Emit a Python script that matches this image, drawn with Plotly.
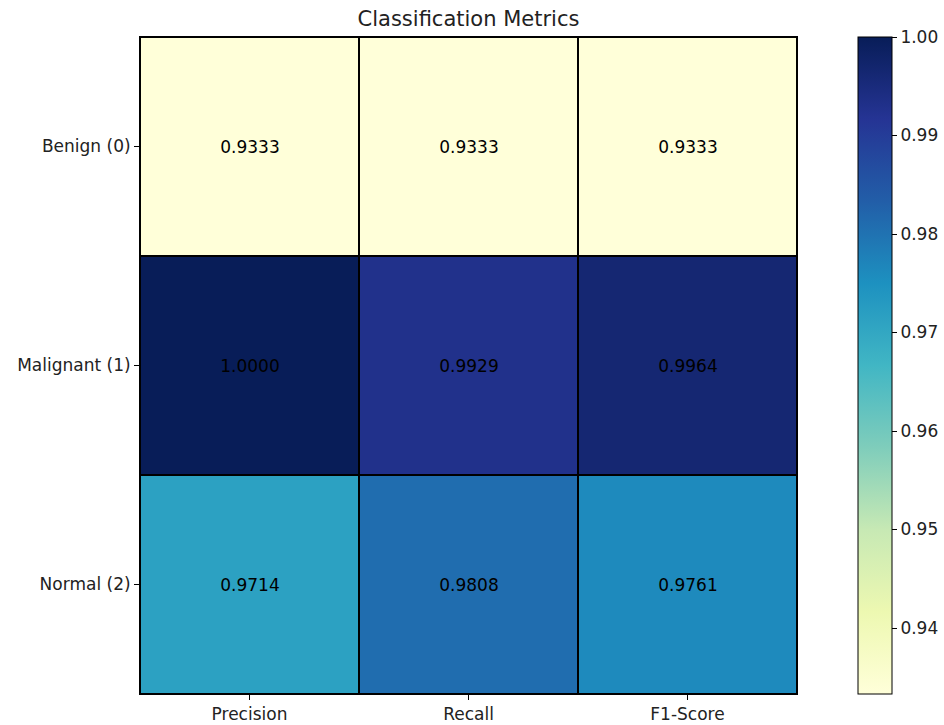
import plotly.graph_objects as go

metrics = ["Precision", "Recall", "F1-Score"]
classes = ["Benign (0)", "Malignant (1)", "Normal (2)"]
precision = [0.9333, 1.0000, 0.9714]
recall = [0.9333, 0.9929, 0.9808]
f1 = [0.9333, 0.9964, 0.9761]
cbar_ticks = [0.94, 0.95, 0.96, 0.97, 0.98, 0.99, 1.00]

z = [[precision[i], recall[i], f1[i]] for i in range(len(classes))]

ylgnbu = ["#ffffd9", "#edf8b1", "#c7e9b4", "#7fcdbb", "#41b6c4",
          "#1d91c0", "#225ea8", "#253494", "#081d58"]
colorscale = [[i / (len(ylgnbu) - 1), c] for i, c in enumerate(ylgnbu)]

font = "DejaVu Sans, sans-serif"
W, H = 944, 725

fig = go.Figure(go.Heatmap(
    z=z, x=metrics, y=classes,
    colorscale=colorscale,
    zmin=min(min(r) for r in z), zmax=max(max(r) for r in z),
    xgap=2, ygap=2,
    texttemplate="%{z:.4f}",
    textfont=dict(family=font, size=17, color="black"),
    hoverinfo="skip",
    colorbar=dict(
        x=1.093, xanchor="left", y=0.5, yanchor="middle",
        len=1.0, lenmode="fraction", thickness=34, xpad=0, ypad=0,
        outlinewidth=1, outlinecolor="black",
        tickvals=cbar_ticks, ticktext=[f"{t:.2f}" for t in cbar_ticks],
        ticks="outside", ticklen=5, tickcolor="black",
        tickfont=dict(family=font, size=17, color="#222"),
    ),
))

fig.update_layout(
    width=W, height=H,
    margin=dict(l=140, r=147, t=37, b=31, autoexpand=False),
    paper_bgcolor="white", plot_bgcolor="black",
    title=dict(text="Classification Metrics", x=0.5, xref="paper", xanchor="center",
               y=1 - 19 / H, yanchor="middle",
               font=dict(family=font, size=21, color="#222")),
    font=dict(family=font, size=17, color="#222"),
)
fig.update_xaxes(showline=True, linecolor="black", linewidth=1, mirror=True,
                 ticks="outside", ticklen=5, tickcolor="black", showgrid=False,
                 tickfont=dict(family=font, size=17, color="#222"))
fig.update_yaxes(autorange="reversed", showline=True, linecolor="black", linewidth=1,
                 mirror=True, ticks="outside", ticklen=5, tickcolor="black",
                 showgrid=False, tickfont=dict(family=font, size=17, color="#222"))

fig.write_html("out.html", config={"displayModeBar": False},
               post_script="document.body.style.margin='0';document.body.style.overflow='hidden';")
